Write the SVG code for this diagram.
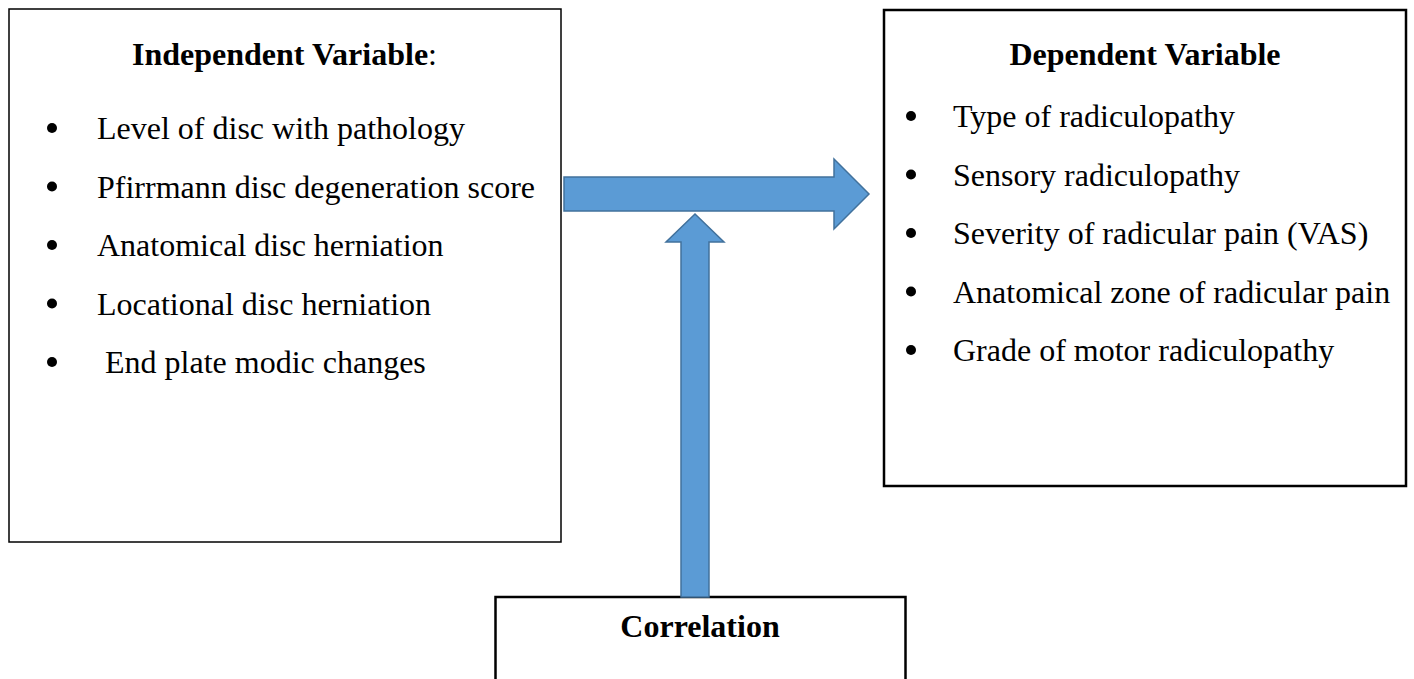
<svg xmlns="http://www.w3.org/2000/svg" width="1414" height="679" viewBox="0 0 1414 679">
<style>
.box{fill:#ffffff;stroke:#000000;stroke-width:1.5}
.thick{stroke-width:2.5}
.t{font-family:"Liberation Serif","Times New Roman",serif;font-size:32px;fill:#000000}
.h{font-weight:bold}
.arr{fill:#5B9BD5;stroke:#41719C;stroke-width:1.5;stroke-linejoin:miter}
</style>
<rect width="1414" height="679" fill="#ffffff"/>
<g id="independent">
<rect class="box" x="9" y="9" width="552" height="533"/>
<text class="t" x="284.5" y="65" text-anchor="middle"><tspan class="h">Independent Variable</tspan>:</text>
<g class="t">
<circle cx="52" cy="128" r="5"/>
<text x="97" y="139">Level of disc with pathology</text>
<circle cx="52" cy="186.5" r="5"/>
<text x="97" y="197.5">Pfirrmann disc degeneration score</text>
<circle cx="52" cy="245" r="5"/>
<text x="97" y="256">Anatomical disc herniation</text>
<circle cx="52" cy="303.5" r="5"/>
<text x="97" y="314.5">Locational disc herniation</text>
<circle cx="52" cy="362" r="5"/>
<text x="97" y="373" xml:space="preserve"> End plate modic changes</text>
</g>
</g>
<g id="dependent">
<rect class="box thick" x="884" y="10" width="522" height="476"/>
<text class="t h" x="1145" y="65" text-anchor="middle">Dependent Variable</text>
<g class="t">
<circle cx="911" cy="116" r="5"/>
<text x="953" y="127">Type of radiculopathy</text>
<circle cx="911" cy="174.5" r="5"/>
<text x="953" y="185.5">Sensory radiculopathy</text>
<circle cx="911" cy="233" r="5"/>
<text x="953" y="244">Severity of radicular pain (VAS)</text>
<circle cx="911" cy="291.5" r="5"/>
<text x="953" y="302.5">Anatomical zone of radicular pain</text>
<circle cx="911" cy="350" r="5"/>
<text x="953" y="361">Grade of motor radiculopathy</text>
</g>
</g>
<g id="correlation">
<rect class="box thick" x="495.5" y="597" width="410" height="100"/>
<text class="t h" x="700" y="637" text-anchor="middle">Correlation</text>
</g>
<g id="connectors">
<path class="arr" d="M564,177 L834,177 L834,159 L869,194 L834,229 L834,211 L564,211 Z"/>
<path class="arr" d="M681,597 L681,242 L666,242 L695,214 L724,242 L709,242 L709,597 Z"/>
</g>
</svg>
